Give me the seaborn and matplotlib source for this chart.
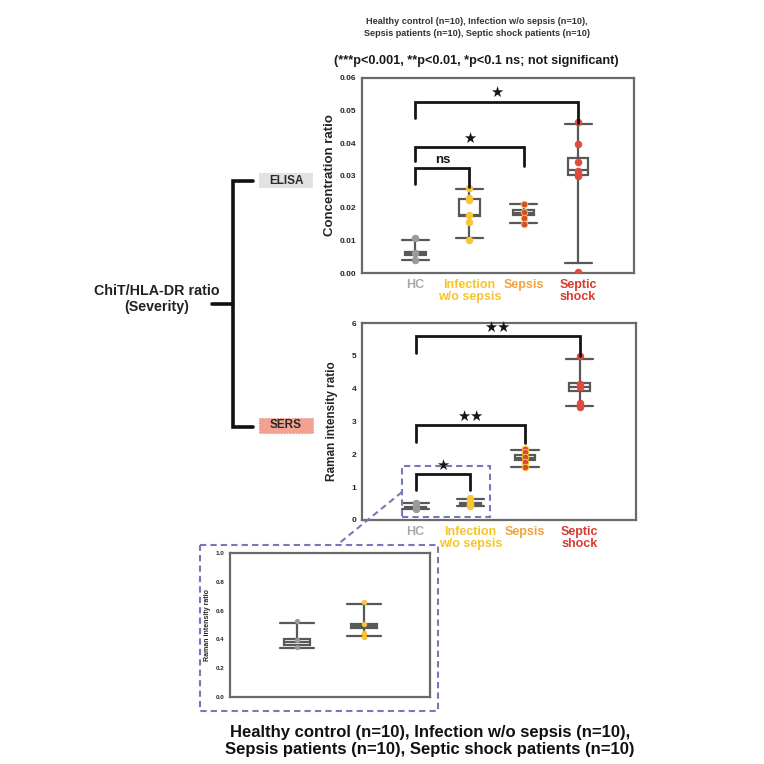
import matplotlib.pyplot as plt
import numpy as np
import pandas as pd
import seaborn as sns
from matplotlib.patches import Rectangle

W = H = 764

GROUPS = ["HC", "Infection w/o sepsis", "Sepsis", "Septic shock"]
TICK_LABELS = ["HC", "Infection\nw/o sepsis", "Sepsis", "Septic\nshock"]
LABEL_COLORS = ["#a9a9a9", "#f8c42a", "#f4a23a", "#d83b30"]
POINT_COLORS = ["#9a9a9a", "#f9c536", "#d9463a", "#df4a3c"]
POINT_EDGES = ["#9a9a9a", "#f9c536", "#f9c536", "#df4a3c"]

# ELISA: concentration ratio (box stats + visible points)
ELISA_Q1 = [0.0054, 0.0175, 0.0178, 0.0302]
ELISA_MED = [0.0060, 0.0178, 0.0186, 0.0318]
ELISA_Q3 = [0.0066, 0.0229, 0.0193, 0.0354]
ELISA_LO = [0.0039, 0.0107, 0.0153, 0.0030]
ELISA_HI = [0.0102, 0.0257, 0.0212, 0.0458]
ELISA_POINTS = [
    [0.0109, 0.0061, 0.0041],
    [0.0261, 0.0231, 0.0226, 0.0180, 0.0158, 0.0102],
    [0.0213, 0.0188, 0.0170, 0.0151],
    [0.0465, 0.0397, 0.0343, 0.0315, 0.0305, 0.0300, 0.0002],
]
ELISA_PAIRS = [(0, 1), (0, 2), (0, 3)]
ELISA_BAR_TOP = [0.0323, 0.0387, 0.0527]
ELISA_LEG_LEFT = [0.0273, 0.0346, 0.0476]
ELISA_LEG_RIGHT = [0.0265, 0.0328, 0.0463]
ELISA_SIG = ["ns", "★", "★"]

# SERS: Raman intensity ratio
SERS_Q1 = [0.36, 0.481, 1.82, 3.94]
SERS_MED = [0.38, 0.495, 1.88, 4.05]
SERS_Q3 = [0.40, 0.507, 1.97, 4.16]
SERS_LO = [0.342, 0.421, 1.61, 3.48]
SERS_HI = [0.512, 0.644, 2.12, 4.90]
SERS_POINTS = [
    [0.528, 0.395, 0.349],
    [0.663, 0.505, 0.442, 0.419],
    [2.17, 2.07, 1.92, 1.77, 1.61],
    [5.00, 4.14, 4.06, 3.55, 3.45],
]
SERS_PAIRS = [(0, 1), (0, 2), (0, 3)]
SERS_BAR_TOP = [1.41, 2.89, 5.61]
SERS_LEG_LEFT = [0.90, 2.38, 5.10]
SERS_LEG_RIGHT = [0.90, 2.35, 4.98]
SERS_SIG = ["★", "★★", "★★"]

LINE_GRAY = "#585858"
FRAME_GRAY = "#6a6a6a"
DASH_BLUE = "#7579b9"


def px_rect(x0, y0, x1, y1):
    return [x0 / W, 1 - y1 / H, (x1 - x0) / W, (y1 - y0) / H]


def points_frame(points):
    rows = []
    for i, vals in enumerate(points):
        for v in vals:
            rows.append({"pos": i, "value": v, "group": GROUPS[i]})
    return pd.DataFrame(rows)


def draw_boxes(ax, q1, med, q3, lo, hi, groups):
    stats = [
        {"q1": q1[i], "med": med[i], "q3": q3[i], "whislo": lo[i], "whishi": hi[i], "fliers": []}
        for i in groups
    ]
    ax.bxp(
        stats,
        positions=list(groups),
        widths=0.38,
        capwidths=0.5,
        showfliers=False,
        patch_artist=True,
        boxprops=dict(facecolor="white", edgecolor=LINE_GRAY, linewidth=1.6),
        whiskerprops=dict(color=LINE_GRAY, linewidth=1.6),
        capprops=dict(color=LINE_GRAY, linewidth=1.6),
        medianprops=dict(color=LINE_GRAY, linewidth=1.6),
        manage_ticks=False,
    )


def draw_points(ax, points, groups, size):
    df = points_frame(points)
    for i in groups:
        sub = df[df["group"] == GROUPS[i]]
        sns.scatterplot(
            data=sub, x="pos", y="value", color=POINT_COLORS[i],
            edgecolor=POINT_EDGES[i], linewidth=0.7, s=size, ax=ax,
            zorder=5, legend=False,
        )


def draw_brackets(ax, pairs, tops, lefts, rights, labels, offset):
    for (a, b), top, yl, yr, lab in zip(pairs, tops, lefts, rights, labels):
        ax.plot([a, a, b, b], [yl, top, top, yr], color="#151515", lw=2.0,
                solid_joinstyle="miter", zorder=6)
        if lab == "ns":
            ax.text((a + b) / 2, top + offset, lab, ha="center", va="bottom",
                    fontsize=9.5, color="#151515")
        else:
            ax.text((a + b) / 2, top + offset, lab, ha="center", va="bottom",
                    fontsize=10.5, family=["DejaVu Sans"], color="#151515")


def style_axes(ax):
    for sp in ax.spines.values():
        sp.set_visible(True)
        sp.set_color(FRAME_GRAY)
        sp.set_linewidth(1.6)
    ax.tick_params(axis="both", length=2, width=0.8, color=FRAME_GRAY, pad=2)


def category_ticks(ax):
    ax.set_xticks(range(4))
    ax.set_xticklabels(TICK_LABELS, fontsize=9, linespacing=1.0)
    for lbl, c in zip(ax.get_xticklabels(), LABEL_COLORS):
        lbl.set_color(c)
    ax.set_xlabel("")


sns.set_theme(style="white")
plt.rcParams["font.family"] = ["Liberation Sans", "DejaVu Sans"]
plt.rcParams["font.weight"] = "bold"
plt.rcParams["axes.labelweight"] = "bold"

fig = plt.figure(figsize=(W / 100, H / 100), dpi=100)

# ---- ELISA panel
ax1 = fig.add_axes(px_rect(362, 78, 634, 273))
draw_boxes(ax1, ELISA_Q1, ELISA_MED, ELISA_Q3, ELISA_LO, ELISA_HI, range(4))
draw_points(ax1, ELISA_POINTS, range(4), 22)
draw_brackets(ax1, ELISA_PAIRS, ELISA_BAR_TOP, ELISA_LEG_LEFT, ELISA_LEG_RIGHT,
              ELISA_SIG, 0.0005)
ax1.set_xlim(-0.98, 4.03)
ax1.set_ylim(0, 0.06)
ax1.set_yticks(np.arange(0, 0.061, 0.01))
ax1.set_yticklabels([f"{v:.2f}" for v in np.arange(0, 0.061, 0.01)], fontsize=6)
ax1.set_ylabel("Concentration ratio", fontsize=9.5, labelpad=3)
category_ticks(ax1)
style_axes(ax1)

# ---- SERS panel
ax2 = fig.add_axes(px_rect(362, 323, 636, 520))
draw_boxes(ax2, SERS_Q1, SERS_MED, SERS_Q3, SERS_LO, SERS_HI, range(4))
draw_points(ax2, SERS_POINTS, range(4), 22)
draw_brackets(ax2, SERS_PAIRS, SERS_BAR_TOP, SERS_LEG_LEFT, SERS_LEG_RIGHT,
              SERS_SIG, 0.03)
ax2.set_xlim(-0.98, 4.03)
ax2.set_ylim(0, 6)
ax2.set_yticks(range(7))
ax2.set_yticklabels([str(v) for v in range(7)], fontsize=6)
ax2.set_ylabel("Raman intensity ratio", fontsize=8.5, labelpad=10)
category_ticks(ax2)
style_axes(ax2)
ax2.add_patch(Rectangle((-0.24, 0.10), 1.60, 1.53, fill=False, edgecolor=DASH_BLUE,
                        lw=1.5, ls=(0, (3, 2)), zorder=7, clip_on=False))

# ---- zoomed inset (HC vs infection)
ax3 = fig.add_axes(px_rect(230, 553, 430, 697))
draw_boxes(ax3, SERS_Q1, SERS_MED, SERS_Q3, SERS_LO, SERS_HI, range(2))
draw_points(ax3, SERS_POINTS, range(2), 10)
ax3.set_xlim(-1.0, 1.98)
ax3.set_ylim(0, 1.0)
ax3.set_yticks(np.arange(0, 1.01, 0.2))
ax3.set_yticklabels([f"{v:.1f}" for v in np.arange(0, 1.01, 0.2)], fontsize=4.5)
ax3.set_xticks([0, 1])
ax3.set_xticklabels(["", ""])
ax3.set_xlabel("")
ax3.set_ylabel("Raman intensity ratio", fontsize=5, labelpad=3)
style_axes(ax3)

# ---- overlay: tree, dashed links, captions
ov = fig.add_axes([0, 0, 1, 1], zorder=10)
ov.set_xlim(0, W)
ov.set_ylim(H, 0)
ov.axis("off")

ov.plot([253, 233, 233, 253], [181, 181, 427, 427], color="#111111", lw=2.6,
        solid_joinstyle="miter")
ov.plot([212, 233], [304, 304], color="#111111", lw=2.6)
ov.text(157, 299, "ChiT/HLA-DR ratio\n(Severity)", ha="center", va="center",
        fontsize=10.3, linespacing=1.15, color="#222222")
ov.add_patch(Rectangle((259, 173), 54, 15, facecolor="#e2e2e2", edgecolor="none"))
ov.text(286, 180.5, "ELISA", ha="center", va="center", fontsize=8.5, color="#2a2a2a")
ov.add_patch(Rectangle((259, 418), 54, 15, facecolor="#f3a190", edgecolor="#e8907f",
                       lw=0.8, ls=":"))
ov.text(286, 425.5, "SERS", ha="center", va="center", fontsize=8.5, color="#2a2a2a")

ov.add_patch(Rectangle((200, 545), 238, 166, fill=False, edgecolor=DASH_BLUE, lw=1.5,
                       ls=(0, (3, 2))))
ov.plot([402, 337], [492, 545], color=DASH_BLUE, lw=1.5, ls=(0, (3, 2)))

ov.text(477, 27.5, "Healthy control (n=10), Infection w/o sepsis (n=10),\n"
        "Sepsis patients (n=10), Septic shock patients (n=10)",
        ha="center", va="center", fontsize=6.6, linespacing=1.35, color="#333333")
ov.text(476, 61, "(***p<0.001, **p<0.01, *p<0.1 ns; not significant)",
        ha="center", va="center", fontsize=9.1, color="#1a1a1a")
ov.text(430, 741, "Healthy control (n=10), Infection w/o sepsis (n=10),\n"
        "Sepsis patients (n=10), Septic shock patients (n=10)",
        ha="center", va="center", fontsize=12, linespacing=1.15, color="#111111")

fig.savefig("out.png", dpi=100)
